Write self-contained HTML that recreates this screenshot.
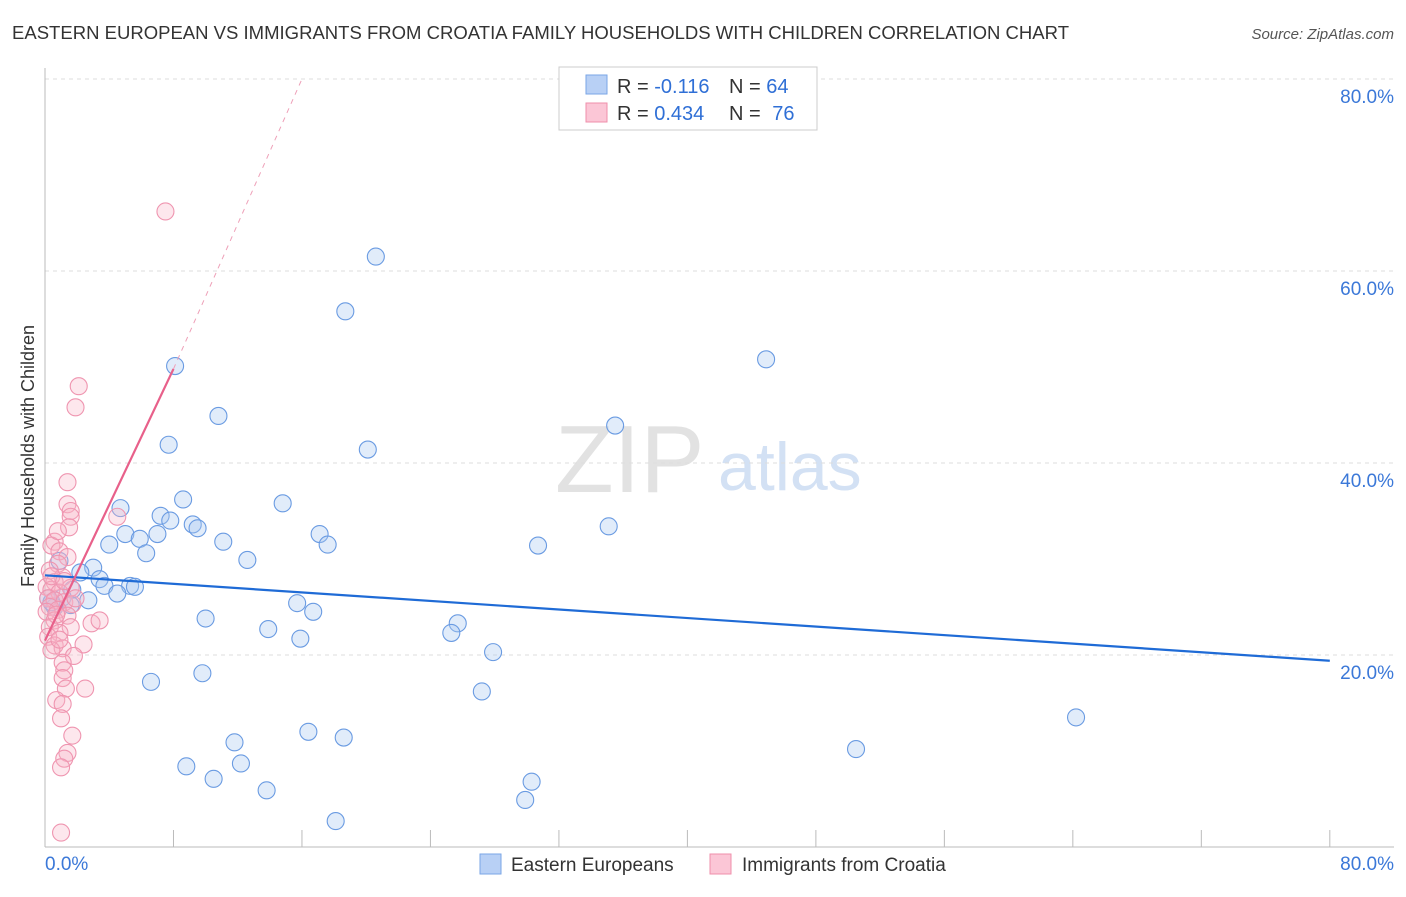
<!DOCTYPE html>
<html><head><meta charset="utf-8"><style>
body{margin:0;background:#fff;font-family:"Liberation Sans",sans-serif;}
svg text{font-family:"Liberation Sans",sans-serif;}
</style></head><body>
<svg id="chart" width="1406" height="892">
<text x="12" y="39" font-size="18.5" fill="#333" textLength="1057" lengthAdjust="spacingAndGlyphs">EASTERN EUROPEAN VS IMMIGRANTS FROM CROATIA FAMILY HOUSEHOLDS WITH CHILDREN CORRELATION CHART</text>
<text x="1394" y="39" font-size="15" fill="#555" font-style="italic" text-anchor="end">Source: ZipAtlas.com</text>
<text x="34" y="456" font-size="18" fill="#333" transform="rotate(-90 34 456)" text-anchor="middle">Family Households with Children</text>
<text x="555" y="492" font-size="96" fill="#e2e2e2" font-family="Liberation Serif">ZIP</text>
<text x="718" y="490" font-size="68" fill="#d3e1f4">atlas</text>
<g id="grid"></g><g id="pts"></g><g id="lines"></g>
<rect x="559" y="67" width="258" height="63" fill="#fff" stroke="#ccc"/>
<rect x="586" y="75" width="21" height="19" fill="#b8d0f5" stroke="#7aa6e6"/>
<rect x="586" y="103" width="21" height="19" fill="#fbc6d6" stroke="#ef8fab"/>
<text x="617" y="93" font-size="20" fill="#333">R = <tspan fill="#2f6fd6">-0.116</tspan></text>
<text x="729" y="93" font-size="20" fill="#333">N = <tspan fill="#2f6fd6">64</tspan></text>
<text x="617" y="120" font-size="20" fill="#333">R = <tspan fill="#2f6fd6">0.434</tspan></text>
<text x="729" y="120" font-size="20" fill="#333">N = <tspan fill="#2f6fd6" dx="6">76</tspan></text>
<rect x="480" y="854" width="21" height="20" fill="#b8d0f5" stroke="#7aa6e6"/>
<text x="511" y="871" font-size="19" fill="#333">Eastern Europeans</text>
<rect x="710" y="854" width="21" height="20" fill="#fbc6d6" stroke="#ef8fab"/>
<text x="742" y="871" font-size="19" fill="#333">Immigrants from Croatia</text>
<text x="45" y="870" font-size="19" fill="#3b78d8">0.0%</text>
<text x="1394" y="870" font-size="19" fill="#3b78d8" text-anchor="end">80.0%</text>
</svg>
<script>
const yTicks=[20,40,60,80];
const yTickLabels=["20.0%","40.0%","60.0%","80.0%"];
const blueX=[20.6,18.7,44.9,8.1,10.8,35.5,7.7,20.1,8.6,4.7,14.8,7.2,7.8,9.2,9.5,17.1,35.1,5.0,7.0,5.9,11.1,4.0,17.6,30.7,6.3,12.6,3.0,3.4,3.7,5.3,5.6,4.5,2.7,1.7,1.1,0.6,15.7,16.7,10.0,25.7,25.3,13.9,15.9,27.9,6.6,9.8,27.2,64.2,50.5,16.4,18.6,11.8,12.2,8.8,10.5,30.3,13.8,29.9,18.1,0.9,0.4,0.2,2.2,1.6];
const blueY=[61.5,55.8,50.8,50.1,44.9,43.9,41.9,41.4,36.2,35.3,35.8,34.5,34.0,33.6,33.2,32.6,33.4,32.6,32.6,32.1,31.8,31.5,31.5,31.4,30.6,29.9,29.1,27.9,27.2,27.2,27.1,26.4,25.7,26.8,26.0,25.0,25.4,24.5,23.8,23.3,22.3,22.7,21.7,20.3,17.2,18.1,16.2,13.5,10.2,12.0,11.4,10.9,8.7,8.4,7.1,6.8,5.9,4.9,2.7,29.8,25.5,25.9,28.6,25.2];
const pinkX=[7.5,2.1,1.9,1.4,1.4,1.6,1.6,1.5,0.6,0.4,0.9,1.4,0.8,0.3,1.1,0.6,0.1,1.6,0.4,0.9,0.2,0.6,1.2,0.3,1.7,0.8,0.1,1.4,0.6,2.9,0.3,1.6,0.9,0.2,2.4,0.6,1.1,1.8,1.1,1.2,1.1,1.3,2.5,0.7,1.1,1.0,1.7,1.4,1.2,1.0,1.0,4.5,3.4,0.8,0.4,1.2,0.7,0.4,0.9,1.9];
const pinkY=[66.2,48.0,45.8,38.0,35.7,35.0,34.4,33.3,31.8,31.4,30.8,30.2,29.5,28.8,28.1,27.6,27.1,27.0,26.8,26.5,25.9,25.7,25.5,25.0,25.3,24.7,24.5,24.1,23.6,23.3,22.9,22.9,22.3,21.9,21.1,21.0,20.7,19.9,19.2,18.4,17.6,16.5,16.5,15.3,14.9,13.4,11.6,9.8,9.2,8.3,1.5,34.4,23.6,32.9,28.2,27.7,24.2,20.5,21.6,25.9];
const blueTrend=[[0,28.3],[80,19.4]];
const pinkTrend=[[0,21.5],[8,49.8]];
const pinkDash=[[8,49.8],[16,80]];
const X=v=>45+v*16.06, Y=v=>847-v*9.6;
const NS="http://www.w3.org/2000/svg";
const g=document.getElementById('grid'),p=document.getElementById('pts'),l=document.getElementById('lines');
function mk(t,a,par){const e=document.createElementNS(NS,t);for(const k in a)e.setAttribute(k,a[k]);par.appendChild(e);return e;}
yTicks.forEach((t,i)=>{
 const ln=mk('line',{x1:45,x2:1394,y1:Y(t),y2:Y(t),stroke:'#ddd','stroke-dasharray':'4,4'},g);
 
 
 const tx=mk('text',{x:1394,y:Y(t)+24,'font-size':19,fill:'#3b78d8','text-anchor':'end'},g);
 tx.textContent=yTickLabels[i];
 
 
});
const ax=mk('line',{x1:45,x2:45,y1:68,y2:847,stroke:'#bbb'},g);


const bx=mk('line',{x1:45,x2:1394,y1:847,y2:847,stroke:'#bbb'},g);


for(let i=1;i<=10;i++){const t=mk('line',{x1:X(i*8),x2:X(i*8),y1:830,y2:847,stroke:'#bbb'},g);
 
 }
blueX.forEach((x,i)=>{const c=mk('circle',{cx:X(x),cy:Y(blueY[i]),r:8.5,fill:'rgba(170,200,240,0.35)',stroke:'#6a9be2','stroke-width':1.1},p);
 
 });
pinkX.forEach((x,i)=>{const c=mk('circle',{cx:X(x),cy:Y(pinkY[i]),r:8.5,fill:'rgba(248,180,200,0.32)',stroke:'#ef95b0','stroke-width':1.1},p);
 
 });
const b=mk('line',{x1:X(blueTrend[0][0]),y1:Y(blueTrend[0][1]),x2:X(blueTrend[1][0]),y2:Y(blueTrend[1][1]),stroke:'#1f6bd6','stroke-width':2.2},l);


const pk=mk('line',{x1:X(pinkTrend[0][0]),y1:Y(pinkTrend[0][1]),x2:X(pinkTrend[1][0]),y2:Y(pinkTrend[1][1]),stroke:'#e8608a','stroke-width':2.2},l);


const pd=mk('line',{x1:X(pinkDash[0][0]),y1:Y(pinkDash[0][1]),x2:X(pinkDash[1][0]),y2:Y(pinkDash[1][1]),stroke:'#eea0b8','stroke-width':1,'stroke-dasharray':'5,5'},l);


</script>
</body></html>
